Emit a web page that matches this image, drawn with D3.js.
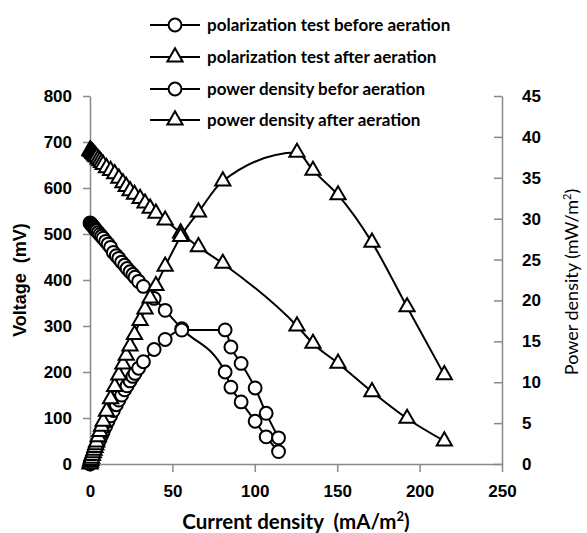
<!DOCTYPE html>
<html>
<head>
<meta charset="utf-8">
<script src="https://cdn.jsdelivr.net/npm/d3@7"></script>
<style>
  body { margin: 0; background: #fff; }
  text { white-space: pre; }
  .tick text { font-family: "Liberation Sans", Arial, sans-serif; font-weight: bold; font-size: 17px; fill: #000; }
  .axis path, .axis line { stroke: #898989; stroke-width: 1.5; }
</style>
</head>
<body>
<div id="chart"></div>
<script>
// current density (mA/m2), voltage (mV), power density (mW/m2)
const currentBefore = [0, 0.3, 0.6, 1, 1.5, 2, 2.5, 3, 3.5, 4, 5, 6, 7, 8, 9.5, 11, 12.5, 14.2, 16, 17.5, 19.2, 21, 22.5, 24.3, 26, 27.3, 29.5, 32.4, 38.9, 45.6, 55.7, 82, 85.5, 91.7, 100.2, 106.9, 114.4];
const voltageBefore = [524, 523, 522, 520, 518, 516, 514, 511, 509, 507, 503, 499, 495, 491, 484, 478, 471, 460, 453, 447, 439, 432, 425, 418, 412, 406, 397, 386, 360, 334, 294, 200, 167, 135, 93, 59, 27];
const powerBefore = [0, 0.16, 0.31, 0.52, 0.78, 1.03, 1.29, 1.53, 1.78, 2.03, 2.52, 2.99, 3.47, 3.93, 4.6, 5.26, 5.89, 6.53, 7.25, 7.82, 8.43, 9.07, 9.56, 10.16, 10.71, 11.08, 11.71, 12.51, 14.0, 15.23, 16.38, 16.4, 14.3, 12.3, 9.3, 6.2, 3.2];

const currentAfter = [0, 0.3, 0.6, 1, 1.5, 2, 2.5, 3, 3.5, 4, 5, 6, 7, 8, 10, 12.5, 15, 17.5, 20, 22, 24.3, 27, 30.4, 33.4, 36.5, 40, 45.6, 55, 65.8, 80.6, 125.6, 135.3, 150.5, 171.1, 192.4, 215];
const voltageAfter = [682, 681, 680, 679, 677, 675, 673, 671, 669, 667, 663, 659, 655, 651, 644, 638, 631, 621, 611, 603, 594, 586, 577, 567, 556, 545, 530, 502, 472, 436, 300, 262, 219, 157, 99, 50];
const powerAfter = [0, 0.2, 0.41, 0.68, 1.02, 1.35, 1.68, 2.01, 2.34, 2.67, 3.32, 3.95, 4.59, 5.21, 6.44, 7.98, 9.47, 10.87, 12.22, 13.27, 14.43, 15.82, 17.54, 18.94, 20.29, 21.8, 24.17, 27.8, 30.8, 34.6, 38.1, 35.9, 32.9, 27.1, 19.2, 10.9];

const legendLabels = ["polarization test before aeration", "polarization test after aeration", "power density befor aeration", "power density after aeration"];
const xTicks = [0, 50, 100, 150, 200, 250];
const yLeftTicks = [0, 100, 200, 300, 400, 500, 600, 700, 800];
const yRightTicks = [0, 5, 10, 15, 20, 25, 30, 35, 40, 45];

const W = 587, H = 533;
const svg = d3.select("#chart").append("svg").attr("width", W).attr("height", H);

const x = d3.scaleLinear().domain([0, 250]).range([90, 502]);
const yL = d3.scaleLinear().domain([0, 800]).range([464, 96]);
const yR = d3.scaleLinear().domain([0, 45]).range([464, 96]);

// axes
svg.append("g").attr("class", "axis")
   .attr("transform", `translate(0,${yL(0)})`)
   .call(d3.axisBottom(x).tickValues(xTicks).tickSize(8).tickPadding(13).tickSizeOuter(0));

svg.append("g").attr("class", "axis")
   .attr("transform", `translate(${x(0)},0)`)
   .call(d3.axisLeft(yL).tickValues(yLeftTicks).tickSize(7).tickPadding(11).tickSizeOuter(0));

const right = svg.append("g").attr("class", "axis")
   .attr("transform", `translate(${x(250)},0)`)
   .call(d3.axisRight(yR).tickValues(yRightTicks).tickSize(0).tickPadding(20).tickSizeOuter(0));
right.selectAll(".tick line").attr("x1", -8).attr("x2", 0);
right.selectAll(".tick text").attr("text-anchor", "start");

// series
const series = [
  { xs: currentBefore, ys: voltageBefore, y: yL, shape: "circle" },
  { xs: currentAfter, ys: voltageAfter, y: yL, shape: "triangle" },
  { xs: currentBefore, ys: powerBefore, y: yR, shape: "circle" },
  { xs: currentAfter, ys: powerAfter, y: yR, shape: "triangle" }
];

const circleSym = d3.symbol().type(d3.symbolCircle).size(130);
const triSym = d3.symbol().type(d3.symbolTriangle).size(100);

series.forEach(s => {
  const pts = s.xs.map((v, i) => [v, s.ys[i]]);
  const line = d3.line().x(d => x(d[0])).y(d => s.y(d[1])).curve(d3.curveMonotoneX);
  svg.append("path").datum(pts)
     .attr("fill", "none").attr("stroke", "#000").attr("stroke-width", 2)
     .attr("d", line);
});

series.forEach(s => {
  const pts = s.xs.map((v, i) => [v, s.ys[i]]);
  svg.append("g").selectAll("path").data(pts).join("path")
     .attr("transform", d => `translate(${x(d[0])},${s.y(d[1])})`)
     .attr("d", s.shape === "circle" ? circleSym : triSym)
     .attr("fill", "#fff").attr("stroke", "#000").attr("stroke-width", 2);
});

// legend
const legendY = [25, 57, 89, 120];
const lg = svg.append("g").selectAll("g").data(legendLabels).join("g")
   .attr("transform", (d, i) => `translate(150,${legendY[i]})`);
lg.append("line").attr("x1", 0).attr("x2", 50).attr("stroke", "#000").attr("stroke-width", 2);
lg.append("path")
  .attr("transform", "translate(25,0)")
  .attr("d", (d, i) => (i % 2 === 0 ? circleSym : triSym)())
  .attr("fill", "#fff").attr("stroke", "#000").attr("stroke-width", 2);
lg.append("text").attr("x", 57).attr("dy", "0.35em")
  .style("font-family", "Lato, sans-serif").style("font-weight", "bold").style("font-size", "17px")
  .text(d => d);

// axis titles
const xt = svg.append("text").attr("x", 296).attr("y", 529).attr("text-anchor", "middle")
   .style("font-family", "Lato, sans-serif").style("font-weight", "bold").style("font-size", "20.5px");
xt.append("tspan").text("Current density  (mA/m");
xt.append("tspan").attr("dy", -8).style("font-size", "13px").text("2");
xt.append("tspan").attr("dy", 8).text(")");

svg.append("text").attr("transform", `translate(26,280) rotate(-90)`).attr("text-anchor", "middle")
   .style("font-family", "Liberation Sans, Arial, sans-serif").style("font-weight", "bold").style("font-size", "18px")
   .text("Voltage  (mV)");

const rt = svg.append("text").attr("transform", `translate(578,282) rotate(-90)`).attr("text-anchor", "middle")
   .style("font-family", "Lato, sans-serif").style("font-size", "18px");
rt.append("tspan").text("Power density (mW/m");
rt.append("tspan").attr("dy", -7).style("font-size", "11px").text("2");
rt.append("tspan").attr("dy", 7).text(")");
</script>
</body>
</html>
